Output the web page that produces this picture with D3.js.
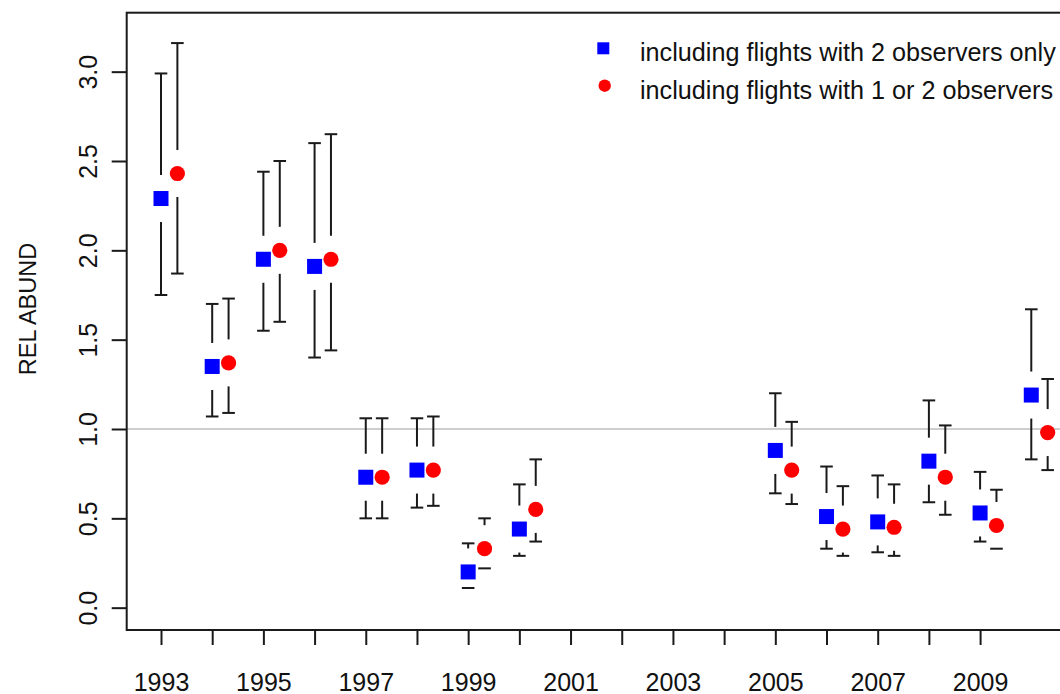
<!DOCTYPE html>
<html>
<head>
<meta charset="utf-8">
<script src="https://cdn.jsdelivr.net/npm/d3@7"></script>
<style>
  html, body { margin: 0; padding: 0; background: #fff; }
  svg { display: block; font-family: "Liberation Sans", Arial, sans-serif; }
</style>
</head>
<body>
<svg id="chart" width="1060" height="694"></svg>
<script>
// Survey years and relative abundance estimates with confidence limits
const years = [1993, 1994, 1995, 1996, 1997, 1998, 1999, 2000, 2005, 2006, 2007, 2008, 2009, 2010];

// flights with 2 observers only
const twoObs   = [2.29, 1.35, 1.95, 1.91, 0.73, 0.77, 0.20, 0.44, 0.88, 0.51, 0.48, 0.82, 0.53, 1.19];
const twoObsLo = [1.75, 1.07, 1.55, 1.40, 0.50, 0.56, 0.11, 0.29, 0.64, 0.33, 0.31, 0.59, 0.37, 0.83];
const twoObsHi = [2.99, 1.70, 2.44, 2.60, 1.06, 1.06, 0.36, 0.69, 1.20, 0.79, 0.74, 1.16, 0.76, 1.67];

// flights with 1 or 2 observers
const anyObs   = [2.43, 1.37, 2.00, 1.95, 0.73, 0.77, 0.33, 0.55, 0.77, 0.44, 0.45, 0.73, 0.46, 0.98];
const anyObsLo = [1.87, 1.09, 1.60, 1.44, 0.50, 0.57, 0.22, 0.37, 0.58, 0.29, 0.29, 0.52, 0.33, 0.77];
const anyObsHi = [3.16, 1.73, 2.50, 2.65, 1.06, 1.07, 0.50, 0.83, 1.04, 0.68, 0.69, 1.02, 0.66, 1.28];

const xTicks = d3.range(1993, 2010);                     // a tick every year
const xLabels = [1993, 1995, 1997, 1999, 2001, 2003, 2005, 2007, 2009];
const yTicks = [0, 0.5, 1.0, 1.5, 2.0, 2.5, 3.0];
const legendLabels = ["including flights with 2 observers only",
                      "including flights with 1 or 2 observers"];
const refLevel = 1.0;

const svg = d3.select("#chart");
const ink = "#1a1a1a";
const fontFamily = "'Liberation Sans', Arial, sans-serif";

const x = d3.scaleLinear().domain([1992.33, 2011.02]).range([126.7, 1083.5]);
const y = d3.scaleLinear().domain([-0.125, 3.33]).range([630, 12.7]);
const offset = 0.32;   // second series is nudged right of the year
const gap = 23.5;      // blank space left around each point
const capHalf = 6.3;

// reference line
svg.append("line")
  .attr("x1", x.range()[0]).attr("x2", 1060)
  .attr("y1", y(refLevel)).attr("y2", y(refLevel))
  .attr("stroke", "#bebebe").attr("stroke-width", 1.6);

// plot frame
svg.append("rect")
  .attr("x", x.range()[0]).attr("y", y.range()[1])
  .attr("width", x.range()[1] - x.range()[0])
  .attr("height", y.range()[0] - y.range()[1])
  .attr("fill", "none").attr("stroke", ink).attr("stroke-width", 2);

// x axis
const gx = svg.append("g")
  .attr("transform", `translate(0,${y.range()[0]})`)
  .call(d3.axisBottom(x).tickValues(xTicks).tickSize(15).tickSizeOuter(0)
        .tickFormat(d => xLabels.includes(d) ? String(d) : ""));
gx.select(".domain").remove();
gx.selectAll(".tick line").attr("stroke", ink).attr("stroke-width", 2);
gx.selectAll(".tick text")
  .attr("y", 60.5).attr("dy", null)
  .attr("fill", "#111").attr("font-size", 25)
  .attr("font-family", fontFamily);

// y axis, labels turned parallel to the axis
const gy = svg.append("g")
  .attr("transform", `translate(${x.range()[0]},0)`)
  .call(d3.axisLeft(y).tickValues(yTicks).tickSize(15).tickSizeOuter(0)
        .tickFormat(d3.format(".1f")));
gy.select(".domain").remove();
gy.selectAll(".tick line").attr("stroke", ink).attr("stroke-width", 2);
gy.selectAll(".tick text")
  .attr("x", null).attr("dy", null)
  .attr("text-anchor", "middle")
  .attr("transform", "translate(-29.7,0) rotate(-90)")
  .attr("fill", "#111").attr("font-size", 25)
  .attr("font-family", fontFamily);

// y axis title
svg.append("text")
  .attr("transform", "translate(36,309) rotate(-90)")
  .attr("text-anchor", "middle")
  .attr("font-size", 23.5).attr("fill", "#111")
  .text("REL ABUND");

// error bars with a gap around the point
function drawBars(cls, dx, mid, lo, hi) {
  const rows = years.map((yr, i) => ({ yr, m: mid[i], lo: lo[i], hi: hi[i] }));
  const g = svg.append("g").attr("class", cls)
    .attr("stroke", ink).attr("stroke-width", 2).attr("fill", "none");
  rows.forEach(r => {
    const cx = x(r.yr + dx), cy = y(r.m);
    const yHi = y(r.hi), yLo = y(r.lo);
    if (yHi < cy - gap) {
      g.append("line").attr("x1", cx).attr("x2", cx).attr("y1", yHi).attr("y2", cy - gap);
    }
    if (yLo > cy + gap) {
      g.append("line").attr("x1", cx).attr("x2", cx).attr("y1", cy + gap).attr("y2", yLo);
    }
    g.append("line").attr("x1", cx - capHalf).attr("x2", cx + capHalf).attr("y1", yHi).attr("y2", yHi);
    g.append("line").attr("x1", cx - capHalf).attr("x2", cx + capHalf).attr("y1", yLo).attr("y2", yLo);
  });
  return rows;
}

const rowsTwo = drawBars("bars-two", 0, twoObs, twoObsLo, twoObsHi);
const rowsAny = drawBars("bars-any", offset, anyObs, anyObsLo, anyObsHi);

svg.append("g").selectAll("rect").data(rowsTwo).join("rect")
  .attr("x", d => x(d.yr) - 7.5).attr("y", d => y(d.m) - 7.5)
  .attr("width", 15).attr("height", 15)
  .attr("fill", "#0000ff");

svg.append("g").selectAll("circle").data(rowsAny).join("circle")
  .attr("cx", d => x(d.yr + offset)).attr("cy", d => y(d.m))
  .attr("r", 7.6)
  .attr("fill", "#ff0000");

// legend
const lg = svg.append("g");
lg.append("rect").attr("x", 603.3 - 6).attr("y", 48.3 - 6).attr("width", 12).attr("height", 12).attr("fill", "#0000ff");
lg.append("circle").attr("cx", 604.7).attr("cy", 85.7).attr("r", 6.2).attr("fill", "#ff0000");
lg.selectAll("text").data(legendLabels).join("text")
  .attr("x", 640).attr("y", (d, i) => 60.5 + i * 38.5)
  .attr("font-size", 25.2).attr("fill", "#111")
  .text(d => d);
</script>
</body>
</html>
